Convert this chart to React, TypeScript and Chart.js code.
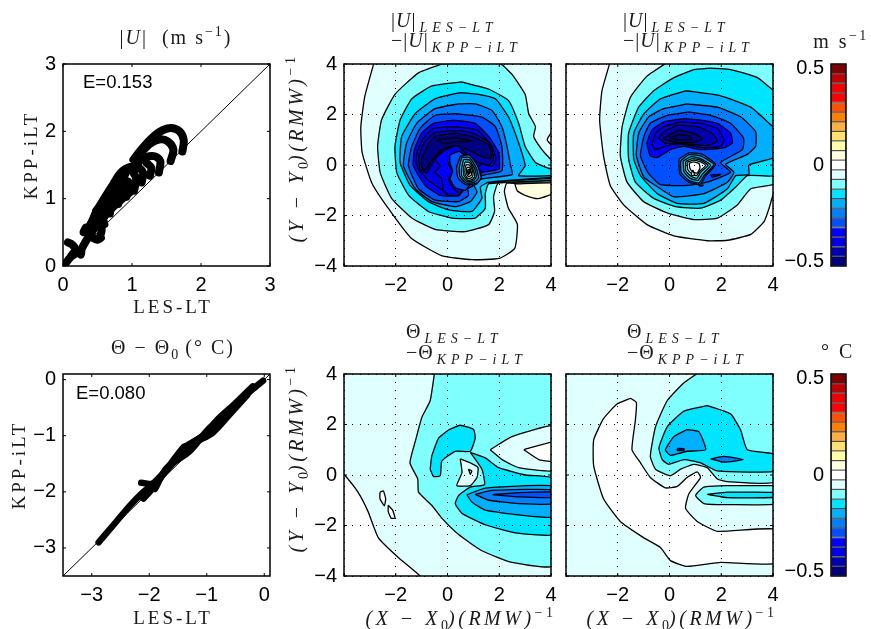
import React, { useEffect, useRef } from "react";
import { Chart, registerables } from "chart.js";
Chart.register(...registerables);

type Pair = [number, number];
type Band = [number, Pair[]];

// colour-bar levels, bottom to top
const levelColors = ["#000080","#0000b0","#0000e0","#0000ff","#0050ff","#0080ff","#00b0ff","#00e5ff","#80ffff","#e0ffff","#ffffff","#ffffe0","#ffffa8","#ffe070","#ffb040","#ff8000","#ff5000","#ff0000","#f00000","#c00000","#800000"];
const levelLow = [-0.525,-0.475,-0.425,-0.375,-0.325,-0.275,-0.225,-0.175,-0.125,-0.075,-0.025,0.025,0.075,0.125,0.175,0.225,0.275,0.325,0.375,0.425,0.475];
const levelHigh = [-0.475,-0.425,-0.375,-0.325,-0.275,-0.225,-0.175,-0.125,-0.075,-0.025,0.025,0.075,0.125,0.175,0.225,0.275,0.325,0.375,0.425,0.475,0.525];
const colorbarTicks = [-0.5, 0, 0.5];
const fieldTicks = [-4, -2, 0, 2, 4];
const speedTicks = [0, 1, 2, 3];
const tempTicks = [-3, -2, -1, 0];

// |U| scatter traces: LES-LT vs KPP-iLT
const speedTraces: Pair[][] = [
  [[1.73,1.7],[1.75,1.87],[1.69,2.0],[1.57,2.05],[1.45,2.02],[1.33,1.94],[1.21,1.82],[1.11,1.7],[1.02,1.58]],
  [[1.56,1.56],[1.6,1.73],[1.52,1.85],[1.4,1.88],[1.28,1.83],[1.16,1.72]],
  [[1.39,1.39],[1.41,1.56],[1.33,1.63],[1.21,1.62],[1.11,1.56],[1.04,1.44]],
  [[1.26,1.34],[1.28,1.46],[1.21,1.53]],
  [[1.14,1.24],[1.16,1.39],[1.09,1.46],[0.94,1.46],[0.8,1.34],[0.68,1.1]],
  [[1.03,1.12],[1.06,1.3],[0.98,1.42],[0.86,1.38],[0.74,1.15],[0.62,0.95]],
  [[0.92,1.03],[0.95,1.22],[0.86,1.28],[0.72,1.0],[0.56,0.78]],
  [[0.8,0.92],[0.84,1.12],[0.74,1.18],[0.62,0.92],[0.5,0.65]],
  [[0.68,0.78],[0.7,0.95],[0.6,0.95],[0.5,0.72],[0.42,0.55]],
  [[0.6,0.62],[0.55,0.78],[0.47,0.78],[0.4,0.55],[0.3,0.5],[0.33,0.57]],
  [[0.53,0.42],[0.56,0.55],[0.47,0.62],[0.4,0.45],[0.5,0.39],[0.55,0.42]],
  [[0.45,0.55],[0.7,0.85],[1.0,1.12]],
  [[0.4,0.62],[0.65,0.98],[0.95,1.25]],
  [[0.48,0.82],[0.7,1.12],[0.9,1.36]],
  [[0.35,0.52],[0.55,0.92],[0.75,1.25]],
  [[0.03,0.03],[0.12,0.14],[0.22,0.2],[0.26,0.17],[0.27,0.25],[0.35,0.4],[0.42,0.5]],
  [[0.07,0.35],[0.13,0.32],[0.18,0.25],[0.12,0.15]],
];

// Theta scatter traces
const tempTraces: Pair[][] = [
  [[-2.88,-2.9],[-2.63,-2.6],[-2.34,-2.25],[-2.12,-2.02],[-1.88,-1.8],[-1.6,-1.5],[-1.35,-1.2],[-1.0,-0.95],[-0.55,-0.5],[-0.2,-0.17],[-0.02,-0.02]],
  [[-2.14,-1.84],[-1.9,-1.85],[-1.75,-1.68],[-1.45,-1.33],[-1.2,-1.12],[-0.9,-0.95],[-0.6,-0.62],[-0.3,-0.28]],
  [[-2.1,-2.12],[-1.95,-1.95],[-1.65,-1.53],[-1.4,-1.2],[-1.35,-1.18],[-1.05,-0.98],[-0.8,-0.7],[-0.5,-0.42],[-0.2,-0.12]],
  [[-1.9,-1.95],[-1.7,-1.58],[-1.3,-1.28],[-0.95,-0.86],[-0.7,-0.68]],
];

const speedDiagonal: Pair[] = [[0,0],[3,3]];
const tempDiagonal: Pair[] = [[-3.5,-3.5],[0.1,0.1]];

const speedBandsA: Band[] = [
  [9,[[-2.8,4.2],[-3.2,2.7],[-3.35,1.5],[-3.3,0.5],[-2.93,-0.7],[-2.3,-1.7],[-1.4,-2.9],[-0.2,-3.6],[0.95,-3.75],[2,-3.7],[2.6,-3.3],[2.7,-2.35],[2.35,-1.7],[2.2,-1.05],[2.3,-0.72],[4.2,-0.7],[4.2,4.2]]],
  [10,[[4.2,1.3],[4,1.26],[3.85,1],[4,0.81],[4.2,0.8]]],
  [11,[[2.6,-0.75],[4.2,-0.72],[4.2,-1.07],[3.5,-1.33],[3,-1.2],[2.7,-1.03]]],
  [8,[[-0.2,4.0],[-1.12,3.65],[-2.03,2.8],[-2.55,1.78],[-2.7,0.74],[-2.6,-0.3],[-2.16,-1.32],[-1.38,-2.1],[-0.48,-2.55],[0.68,-2.64],[1.59,-2.36],[1.82,-1.84],[1.78,-1.26],[1.98,-0.7],[4.2,-0.64],[4.2,0.22],[4,0.22],[3.65,0.61],[3.33,1.13],[3.4,1.52],[3.14,2.03],[3,2.8],[2.5,3.58],[2.1,3.97],[1.5,4.2]]],
  [7,[[0.55,3.29],[-0.6,3.13],[-1.38,2.62],[-1.83,1.78],[-2.03,0.74],[-1.96,-0.3],[-1.5,-1.2],[-0.74,-1.84],[0.17,-2.1],[1.07,-2.1],[1.46,-1.71],[1.46,-1.13],[1.6,-0.74],[4.2,-0.58],[4.2,-0.16],[4,-0.16],[3.4,0.1],[3,0.74],[2.75,1.65],[2.36,2.55],[1.6,3]]],
  [7,[[1.6,-0.68],[4.2,-0.52]]],
  [6,[[0.49,2.87],[-0.48,2.62],[-1.25,2.03],[-1.77,1.13],[-1.83,0.1],[-1.45,-0.8],[-0.74,-1.45],[0.04,-1.78],[0.94,-1.84],[1.33,-1.32],[1.27,-0.87],[1.6,-0.68],[4.2,-0.47],[4.2,-0.42],[2.75,-0.42],[3,-0.03],[2.75,0.87],[2.36,1.9],[1.85,2.62],[1.2,2.8]]],
  [5,[[0.43,2.42],[-0.48,2.23],[-1.19,1.65],[-1.58,0.87],[-1.7,-0.03],[-1.25,-0.94],[-0.6,-1.45],[0.3,-1.65],[0.88,-1.45],[1.14,-1.07],[1,-0.74],[1.33,-0.55],[2.5,-0.38],[2.44,-0.03],[2.3,0.74],[2.1,1.52],[1.72,2.16],[1.07,2.42]]],
  [4,[[0.36,2.03],[-0.48,1.97],[-1.06,1.45],[-1.38,0.74],[-1.51,-0.03],[-1.12,-0.94],[-0.48,-1.39],[0.43,-1.45],[0.81,-1.2],[0.79,-0.94],[1.14,-0.74],[1.33,-0.42],[2.1,-0.23],[2.1,0.74],[1.85,1.52],[1.33,1.9]]],
  [3,[[0.23,1.78],[-0.54,1.65],[-1,1.26],[-1.28,0.61],[-1.32,-0.03],[-0.87,-0.8],[-0.28,-1.2],[0.43,-1.22],[0.56,-1.07],[0.75,-0.81],[1.07,-0.61],[1.33,-0.29],[1.98,-0.16],[1.98,0.48],[1.59,1.13],[1.07,1.65]]],
  [2,[[0.23,1.52],[-0.54,1.45],[-0.93,1.06],[-1.19,0.48],[-1.19,-0.03],[-0.8,-0.55],[-0.28,-0.94],[0.3,-1.17],[0.5,-1.1],[0.9,-0.3],[1.33,0.03],[1.72,-0.06],[1.88,0.23],[1.72,0.74],[1.14,1.39]]],
  [1,[[0.1,1.35],[-0.5,1.28],[-0.9,0.9],[-1.1,0.35],[-1.08,-0.15],[-0.8,-0.3],[-0.45,0.3],[0.1,0.7],[0.6,0.55],[1.1,0.15],[1.6,0],[1.78,0.25],[1.65,0.85],[1,1.25],[0.5,1.35]]],
  [0,[[-1,0.25],[-0.75,0.8],[-0.45,1.15],[0.3,1.25],[0.95,1.12],[1.62,0.78],[1.68,0.25],[1.3,0.35],[0.9,0.55],[0.3,0.78],[-0.2,0.62],[-0.55,0.25],[-0.85,-0.2],[-1,-0.1]]],
  [0,[[-0.4,1.0],[0.3,1.08],[0.95,0.95],[0.35,0.92],[-0.15,0.85]]],
  [3,[[0.36,0.78],[-0.16,0.55],[-0.48,0.2],[-0.28,-0.03],[-0.48,-0.29],[-0.22,-0.55],[-0.16,-1],[0.04,-1.2],[0.49,-1.17],[0.23,-0.94],[0.04,-0.55],[0.23,-0.29],[0.04,0.03],[0.23,0.36],[0.68,0.48]]],
  [4,[[0.45,0.55],[0.1,0.4],[0.1,0.05],[0.2,-0.25],[0.1,-0.55],[0.3,-0.9],[0.7,-1],[0.85,-0.8],[1.2,-0.6],[1.3,-0.3],[1.1,0],[0.8,0.3]]],
  [5,[[0.5,0.35],[0.85,0.4],[1.15,0],[1.3,-0.5],[1.15,-0.72],[0.7,-0.78],[0.4,-0.5],[0.35,-0.1]]],
  [6,[[0.55,0.3],[0.85,0.3],[1.1,-0.1],[1.2,-0.5],[1.05,-0.68],[0.72,-0.72],[0.48,-0.45],[0.45,-0.1]]],
  [7,[[0.62,0.22],[0.85,0.2],[1.05,-0.15],[1.12,-0.45],[1,-0.62],[0.75,-0.66],[0.55,-0.42],[0.55,-0.1]]],
  [8,[[0.68,0.12],[0.85,0.1],[1,-0.2],[1.05,-0.45],[0.95,-0.58],[0.78,-0.6],[0.63,-0.4],[0.62,-0.1]]],
  [9,[[0.72,0.02],[0.85,0],[0.97,-0.25],[0.98,-0.42],[0.9,-0.52],[0.78,-0.53],[0.68,-0.38],[0.68,-0.12]]],
  [10,[[0.76,-0.08],[0.85,-0.1],[0.92,-0.28],[0.92,-0.4],[0.82,-0.46],[0.74,-0.36],[0.73,-0.18]]],
  [11,[[0.79,-0.17],[0.85,-0.18],[0.88,-0.3],[0.82,-0.38],[0.77,-0.3]]],
  [12,[[0.81,-0.22],[0.84,-0.23],[0.85,-0.3],[0.81,-0.33]]],
];

const speedBandsB: Band[] = [
  [9,[[-2.26,4.2],[-2.61,2.94],[-2.7,1.78],[-2.55,0.36],[-2.29,-0.81],[-1.77,-1.58],[-0.87,-2.36],[0.17,-2.81],[1.46,-3],[2.24,-2.98],[3.14,-2.75],[3.66,-2.23],[3.85,-1.71],[4.04,-1.07],[4.2,-1],[4.2,4.2]]],
  [8,[[-0.03,4.1],[-0.87,3.52],[-1.51,2.68],[-1.83,1.52],[-1.9,0.36],[-1.64,-0.68],[-1,-1.45],[-0.09,-1.9],[0.94,-2.16],[1.85,-2.1],[2.62,-1.58],[3.14,-0.94],[4.2,-0.68],[4.2,4.2],[0,4.2]]],
  [7,[[0.94,3.78],[0.17,3.46],[-0.61,2.94],[-1.19,2.29],[-1.58,1.26],[-1.58,0.23],[-1.32,-0.68],[-0.61,-1.32],[0.23,-1.65],[1.2,-1.71],[1.98,-1.39],[2.62,-0.81],[3.01,-0.42],[4.2,-0.38],[4.2,3.05],[4.04,2.94],[3.4,3.46],[2.36,3.78],[1.59,3.84]]],
  [6,[[0.62,2.94],[-0.35,2.62],[-0.99,2.03],[-1.38,1.26],[-1.38,0.23],[-1.12,-0.42],[-0.48,-1.13],[0.3,-1.52],[1.33,-1.52],[2.24,-0.94],[2.56,-0.42],[3.07,-0.38],[3.07,0],[4.2,0.36],[4.2,1.4],[4,1.52],[3.14,2.29],[1.98,2.74]]],
  [5,[[0.68,2.42],[-0.22,2.23],[-0.8,1.91],[-1.19,1.26],[-1.28,0.36],[-0.99,-0.48],[-0.35,-0.94],[0.17,-1.26],[1.33,-1.13],[2.24,-0.68],[2.49,-0.29],[2.17,0.03],[3.01,0.42],[3.33,0.74],[3.33,1.32],[2.75,1.91],[1.85,2.29]]],
  [4,[[0.75,2.1],[-0.09,1.97],[-0.74,1.65],[-0.99,1.13],[-1.12,0.36],[-0.84,-0.29],[-0.35,-0.78],[0.68,-0.81],[1.46,-0.68],[2.36,-0.29],[1.98,0.1],[2.82,0.61],[2.86,1.07],[2.36,1.65],[1.59,1.97]]],
  [3,[[0.56,1.84],[-0.22,1.71],[-0.67,1.39],[-0.87,0.87],[-0.74,0.36],[-0.48,0.29],[0.04,0.61],[0.56,0.74],[1.2,0.61],[2.11,0.68],[2.43,0.87],[2.36,1.26],[1.85,1.65],[1.2,1.78]]],
  [2,[[0.43,1.71],[-0.22,1.52],[-0.54,1.26],[-0.67,0.81],[-0.54,0.61],[0.04,0.81],[0.56,0.81],[1.33,0.68],[1.98,0.74],[2.11,1],[1.85,1.45],[1.2,1.65]]],
  [1,[[0.3,1.58],[-0.22,1.32],[-0.41,1.07],[-0.16,0.87],[0.56,0.85],[1.46,0.77],[1.85,0.94],[1.65,1.26],[1.07,1.52]]],
  [0,[[0.36,1.39],[-0.09,1.16],[-0.22,1.03],[0.23,0.9],[0.94,0.9],[1.27,1.03],[1.01,1.23]]],
  [0,[[0.36,1.2],[0.04,1.07],[0.43,0.98],[0.88,1.03],[0.75,1.16]]],
  [5,[[0.36,0.23],[0.75,0.48],[1.27,0.42],[1.78,0.03],[1.4,-0.42],[1.18,-0.76],[0.75,-0.68],[0.4,-0.36]]],
  [6,[[0.43,0.16],[0.75,0.41],[1.2,0.36],[1.72,0.03],[1.33,-0.42],[1.14,-0.71],[0.75,-0.61],[0.45,-0.29]]],
  [7,[[0.53,0.16],[0.84,0.33],[1.2,0.25],[1.59,-0.01],[1.27,-0.36],[1.1,-0.61],[0.79,-0.52],[0.56,-0.26]]],
  [8,[[0.62,0.14],[0.88,0.25],[1.2,0.19],[1.49,-0.01],[1.2,-0.29],[1.07,-0.52],[0.84,-0.45],[0.63,-0.23]]],
  [9,[[0.68,0.1],[0.92,0.19],[1.2,0.12],[1.4,-0.01],[1.15,-0.27],[1.05,-0.42],[0.88,-0.36],[0.71,-0.19]]],
  [10,[[0.76,0.07],[0.94,0.12],[1.14,0.06],[1.18,-0.1],[1.07,-0.32],[0.92,-0.29],[0.79,-0.14]]],
  [10,[[0.9,-0.2],[0.84,-0.4],[0.97,-0.4]]],
  [3,[[1.59,-0.39],[1.98,-0.37],[1.65,-0.48]]],
  [3,[[1.1,-0.8],[1.3,-0.8],[1.2,-0.85]]],
];

const tempBandsA: Band[] = [
  [9,[[-4.2,-4.2],[4.2,-4.2],[4.2,4.2],[-4.2,4.2]]],
  [10,[[-4.2,0.2],[-4,0.03],[-3.46,-0.68],[-3.07,-1.45],[-2.67,-2.49],[-1.9,-3.27],[-1.06,-4],[-1,-4.2],[-4.2,-4.2]]],
  [10,[[-2.61,-0.68],[-2.48,-0.63],[-2.39,-0.94],[-2.44,-1.22],[-2.61,-0.94]]],
  [10,[[-2.29,-1.2],[-2.12,-1.39],[-2.03,-1.71],[-2.18,-1.71],[-2.29,-1.45]]],
  [8,[[-0.48,4.2],[-0.67,2.94],[-0.99,2.29],[-1.23,1.39],[-1.45,0.48],[-1.15,-0.16],[-1.12,-0.68],[-0.61,-1.2],[-0.22,-1.71],[0.43,-2.36],[1.33,-3],[2.49,-3.46],[4.2,-3.56],[4.2,4.2]]],
  [9,[[1.65,1],[2.49,1.52],[4.2,1.95],[4.2,0.19],[2.75,0.29],[2.11,0.61]]],
  [10,[[2.95,1],[4.2,1.33],[4.2,0.55],[3.53,0.61]]],
  [7,[[-0.67,0.23],[-0.61,0.74],[-0.35,1.45],[0.04,1.78],[0.49,1.97],[1.01,1.8],[1.07,1.45],[0.88,0.94],[0.3,0.94],[-0.22,0.55],[-0.28,-0.03],[-0.54,-0.06]]],
  [7,[[0.88,0.9],[1.46,0.68],[1.98,0.29],[3.01,0],[4.2,-0.16],[4.2,-2.33],[2.62,-2.29],[1.46,-1.97],[0.56,-1.52],[0.3,-1.13],[0.43,-0.81],[0.88,-0.48],[1.43,-0.38],[1.33,0.23]]],
  [9,[[0.49,0.64],[0.88,0.48],[1.18,0.29],[1.14,-0.1],[0.88,-0.42],[0.36,-0.42],[0.56,0.1]]],
  [8,[[0.81,0.23],[0.94,0.16],[0.88,0.03]]],
  [6,[[0.75,-0.78],[1.46,-0.52],[4.2,-0.46],[4.2,-1.65],[2.75,-1.58],[1.46,-1.39],[0.94,-1.07]]],
  [5,[[1.07,-0.77],[1.72,-0.61],[4.2,-0.6],[4.2,-1.13],[2.75,-1.13],[1.59,-1]]],
  [4,[[1.74,-0.78],[2.75,-0.7],[4.2,-0.68],[4.2,-0.88],[2.75,-0.87]]],
];

const tempBandsB: Band[] = [
  [9,[[-4.2,-4.2],[4.2,-4.2],[4.2,4.2],[-4.2,4.2]]],
  [10,[[-1.51,3.04],[-1.28,2.87],[-1.32,2.16],[-1.45,1],[-1.12,0.48],[-0.74,-0.1],[-0.16,-0.51],[0.3,-0.45],[0.68,-0.1],[1.07,0.12],[1.2,-0.1],[0.75,-0.74],[0.62,-1.32],[1.07,-1.84],[1.85,-2.23],[4.2,-2.16],[4.2,-3.49],[1.98,-3.46],[0.68,-3.62],[0.04,-3.39],[-0.35,-2.87],[-0.99,-2.49],[-1.9,-1.84],[-2.55,-0.94],[-2.93,0.36],[-2.93,1.39],[-2.55,2.23],[-2.03,2.81]]],
  [8,[[1.33,4.2],[0.56,3.65],[-0.09,2.94],[-0.54,1.91],[-0.74,0.74],[-0.54,0.23],[0.04,-0.03],[0.43,0.23],[0.94,0.42],[1.46,0.29],[1.85,-0.16],[2.24,-0.26],[4.2,-0.23],[4.2,4.2]]],
  [8,[[4.2,-0.42],[2.24,-0.42],[1.33,-0.48],[1.01,-0.81],[1.33,-1.13],[2.24,-1.17],[4.2,-1.13]]],
  [7,[[1.46,-0.77],[2.24,-0.68],[4.2,-0.7],[4.2,-0.88],[2.24,-0.9]]],
  [7,[[1.46,2.75],[0.56,2.53],[-0.09,1.91],[-0.41,1.07],[-0.28,0.61],[-0.03,0.42],[0.56,0.61],[1.2,0.48],[1.85,0.16],[4.2,0.16],[4.2,0.8],[3.01,1],[2.75,1.78],[2.36,2.42]]],
  [6,[[0.68,1.8],[0.17,1.52],[-0.16,1],[0.04,0.78],[0.68,0.94],[1.4,1],[1.14,1.71]]],
  [0,[[0.3,1.05],[0.56,1.04],[0.56,0.97],[0.3,0.97]]],
  [5,[[1.59,0.64],[2.11,0.74],[2.85,0.61],[2.11,0.51]]],
];

const tick = (v: number) => String(v).replace("-", "\u2212");
const frame = {
  id: "frame",
  afterDatasetsDraw(c: any) {
    const { ctx, chartArea: a, scales } = c;
    ctx.save();
    ctx.strokeStyle = "#000";
    ctx.lineWidth = 1.5;
    ctx.strokeRect(a.left, a.top, a.right - a.left, a.bottom - a.top);
    ctx.lineWidth = 1;
    ctx.beginPath();
    if (scales.x?.options.display)
      scales.x.ticks.forEach((t: any) => {
        const p = scales.x.getPixelForValue(t.value);
        ctx.moveTo(p, a.bottom); ctx.lineTo(p, a.bottom - 3);
        ctx.moveTo(p, a.top); ctx.lineTo(p, a.top + 3);
      });
    if (scales.y && scales.x?.options.display)
      scales.y.ticks.forEach((t: any) => {
        const p = scales.y.getPixelForValue(t.value);
        ctx.moveTo(a.left, p); ctx.lineTo(a.left + 3, p);
        ctx.moveTo(a.right, p); ctx.lineTo(a.right - 3, p);
      });
    ctx.stroke();
    ctx.restore();
  },
};

const PAD_L = 60, PAD_T = 14, PAD_R = 16, PAD_B = 34, FONT = 20;
const axis = (min: number, max: number, values: number[], fit: any, grid: boolean, show: (v: number) => boolean = () => true) => ({
  type: "linear", min, max,
  afterBuildTicks: (s: any) => { s.ticks = values.map((value) => ({ value })); },
  afterFit: fit,
  grid: grid ? { display: true, color: "#000", z: 1, drawTicks: false, lineWidth: 1 } : { display: false, drawTicks: false },
  border: grid ? { display: false, dash: [1, 7] } : { display: false },
  ticks: {
    color: "#000", padding: 7, maxRotation: 0, autoSkip: false,
    font: { family: "'Liberation Sans'", size: FONT },
    callback: (v: number) => (show(v) ? tick(v) : ""),
  },
});
const fitX = (s: any) => { s.height = PAD_B; };
const fitY = (s: any) => { s.width = PAD_L; };

const toXY = (p: Pair[]) => p.map(([x, y]) => ({ x, y }));
const bandSets = (bands: Band[]) =>
  bands.map(([lv, pts]) => ({
    data: toXY([...pts, pts[0]]),
    showLine: true, fill: "shape", backgroundColor: levelColors[lv],
    borderColor: "#000", borderWidth: 1.3, pointRadius: 0, tension: 0.15, borderJoinStyle: "round",
  })).reverse();
const traceSets = (traces: Pair[][], width: number, diag: Pair[]) => [
  ...traces.map((t) => ({
    data: toXY(t), showLine: true, borderColor: "#000", backgroundColor: "#000", borderWidth: width,
    borderCapStyle: "round", borderJoinStyle: "round", pointRadius: 0, tension: 0.3,
  })),
  { data: toXY(diag), showLine: true, borderColor: "#000", borderWidth: 1, pointRadius: 0 },
];

const scatterConfig = (sets: any[], x: any, y: any) => ({
  type: "scatter",
  data: { datasets: sets },
  options: {
    responsive: false, animation: false, events: [],
    layout: { padding: { left: 0, top: PAD_T, right: PAD_R, bottom: 0 } },
    plugins: { legend: { display: false }, tooltip: { enabled: false } },
    scales: { x, y },
  },
  plugins: [frame],
});

const notMin = (v: number) => v !== -4;
const speedPanel = () => scatterConfig(traceSets(speedTraces, 8, speedDiagonal), axis(0, 3, speedTicks, fitX, false), axis(0, 3, speedTicks, fitY, false));
const tempPanel = () => scatterConfig(traceSets(tempTraces, 6.5, tempDiagonal), axis(-3.5, 0.1, tempTicks, fitX, false), axis(-3.5, 0.1, tempTicks, fitY, false));
const fieldPanel = (b: Band[], yLabels: boolean) => scatterConfig(bandSets(b), axis(-4, 4, fieldTicks, fitX, true, notMin), axis(-4, 4, fieldTicks, fitY, true, () => yLabels));
const colorbar = () => ({
  type: "bar",
  data: {
    labels: ["level"],
    datasets: levelColors.map((c, i) => ({
      data: [[levelLow[i], levelHigh[i]]], backgroundColor: c,
      borderColor: "rgba(0,0,0,0.55)", borderWidth: 1, borderSkipped: false,
      barPercentage: 1, categoryPercentage: 1, grouped: false,
    })),
  },
  options: {
    responsive: false, animation: false, events: [],
    layout: { padding: { left: 0, top: PAD_T, right: PAD_R, bottom: PAD_B } },
    plugins: { legend: { display: false }, tooltip: { enabled: false } },
    scales: { x: { display: false }, y: axis(-0.525, 0.525, colorbarTicks, fitY, false) },
  },
  plugins: [frame],
});

const panels = [
  { left: 63, top: 59, w: 207, h: 207, make: speedPanel },
  { left: 344, top: 59, w: 207, h: 207, make: () => fieldPanel(speedBandsA, true) },
  { left: 566, top: 59, w: 207, h: 207, make: () => fieldPanel(speedBandsB, false) },
  { left: 831, top: 59, w: 15, h: 207, make: colorbar },
  { left: 63, top: 369, w: 207, h: 207, make: tempPanel },
  { left: 344, top: 369, w: 207, h: 207, make: () => fieldPanel(tempBandsA, true) },
  { left: 566, top: 369, w: 207, h: 207, make: () => fieldPanel(tempBandsB, false) },
  { left: 831, top: 369, w: 15, h: 207, make: colorbar },
];

function Panel({ p }: { p: any }) {
  const ref = useRef<HTMLCanvasElement>(null);
  useEffect(() => {
    const c = new Chart(ref.current as any, p.make() as any);
    return () => c.destroy();
  }, [p]);
  return (
    <canvas ref={ref} width={p.w + PAD_L + PAD_R} height={p.h + PAD_T + PAD_B}
      style={{ position: "absolute", left: p.left - PAD_L, top: p.top - PAD_T, width: p.w + PAD_L + PAD_R, height: p.h + PAD_T + PAD_B, display: "block" }} />
  );
}

const SERIF = "'Liberation Serif', serif";
function T({ x, y, rot, left, size = 20, gap = 1, children }: any) {
  return (
    <div style={{
      position: "absolute", left: x, top: y, whiteSpace: "pre", fontFamily: SERIF, fontSize: size,
      letterSpacing: gap, color: "#1a1a1a", lineHeight: 1,
      transform: left ? "translate(0,-50%)" : `translate(-50%,-50%)${rot ? " rotate(-90deg)" : ""}`,
    }}>{children}</div>
  );
}
const I = ({ children }: any) => <i>{children}</i>;
const Sub = ({ children, spaced }: any) => (
  <span style={{ fontSize: "0.7em", verticalAlign: "-0.35em", lineHeight: 0, fontStyle: spaced ? "italic" : "normal", letterSpacing: spaced ? 5 : 0, marginLeft: spaced ? 3 : 0 }}>{children}</span>
);
const Sup = ({ children }: any) => (
  <span style={{ fontSize: "0.7em", verticalAlign: "0.55em", lineHeight: 0 }}>{children}</span>
);

const yLabel = <><I>(Y − Y</I><Sub>0</Sub><I>)(RMW)</I><Sup>−1</Sup></>;
const xLabel = <><I>(X − X</I><Sub>0</Sub><I>)(RMW)</I><Sup>−1</Sup></>;

export default function App() {
  return (
    <div style={{ position: "absolute", left: 0, top: 0, width: 871, height: 629, background: "#fff", overflow: "hidden" }}>
      {panels.map((p, i) => <Panel key={i} p={p} />)}

      <T x={176} y={37} gap={2}>|<I>U</I>|  (m s<Sup>−1</Sup>)</T>
      <T x={173} y={306} gap={3} size={19}>LES-LT</T>
      <T x={30} y={155} rot gap={3} size={19}>KPP-iLT</T>
      <div style={{ position: "absolute", left: 83, top: 72, fontFamily: "'Liberation Sans'", fontSize: 18.5, lineHeight: "20px" }}>E=0.153</div>

      <T x={173} y={347} gap={2}>Θ − Θ<Sub>0</Sub> (° C)</T>
      <T x={173} y={617} gap={3} size={19}>LES-LT</T>
      <T x={18} y={465} rot gap={3} size={19}>KPP-iLT</T>
      <div style={{ position: "absolute", left: 76, top: 383, fontFamily: "'Liberation Sans'", fontSize: 18.5, lineHeight: "20px" }}>E=0.080</div>

      <T x={391} y={20} left>|<I>U</I>|<Sub spaced>LES−LT</Sub></T>
      <T x={391} y={40} left>−|<I>U</I>|<Sub spaced>KPP−iLT</Sub></T>
      <T x={623} y={20} left>|<I>U</I>|<Sub spaced>LES−LT</Sub></T>
      <T x={623} y={40} left>−|<I>U</I>|<Sub spaced>KPP−iLT</Sub></T>

      <T x={406} y={331} left>Θ<Sub spaced>LES−LT</Sub></T>
      <T x={406} y={352} left>−Θ<Sub spaced>KPP−iLT</Sub></T>
      <T x={627} y={331} left>Θ<Sub spaced>LES−LT</Sub></T>
      <T x={627} y={352} left>−Θ<Sub spaced>KPP−iLT</Sub></T>

      <T x={296} y={148} rot size={20} gap={3.5}>{yLabel}</T>
      <T x={296} y={458} rot size={20} gap={3.5}>{yLabel}</T>
      <T x={461} y={618} size={20} gap={3.5}>{xLabel}</T>
      <T x={682} y={618} size={20} gap={3.5}>{xLabel}</T>

      <T x={841} y={41} gap={2.5}>m s<Sup>−1</Sup></T>
      <T x={838} y={351} gap={2.5}>° C</T>
    </div>
  );
}
